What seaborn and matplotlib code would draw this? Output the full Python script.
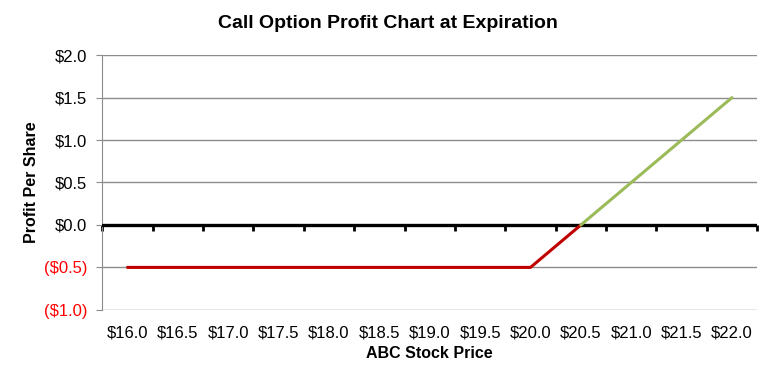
import numpy as np
import matplotlib.pyplot as plt
import seaborn as sns
import pandas as pd

# stock price categories and profit per share at expiration
prices = [16.0, 16.5, 17.0, 17.5, 18.0, 18.5, 19.0, 19.5, 20.0, 20.5, 21.0, 21.5, 22.0]
profit = [-0.5, -0.5, -0.5, -0.5, -0.5, -0.5, -0.5, -0.5, -0.5, 0.0, 0.5, 1.0, 1.5]
y_ticks = [-1.0, -0.5, 0.0, 0.5, 1.0, 1.5, 2.0]

sns.set_style('white')
plt.rcParams['font.family'] = ['Liberation Sans', 'DejaVu Sans']
plt.rcParams['text.color'] = 'black'
plt.rcParams['axes.labelcolor'] = 'black'
plt.rcParams['xtick.color'] = 'black'
plt.rcParams['ytick.color'] = 'black'

df = pd.DataFrame({'pos': np.arange(len(prices)), 'price': prices, 'profit': profit})
loss = df[df['profit'] <= 0]
gain = df[df['profit'] >= 0]

fig, ax = plt.subplots(figsize=(7.75, 3.83), dpi=100)
fig.subplots_adjust(left=0.132, right=0.977, top=0.856, bottom=0.191)

sns.lineplot(data=loss, x='pos', y='profit', color='#C00000', linewidth=2.2, ax=ax, zorder=4)
sns.lineplot(data=gain, x='pos', y='profit', color='#9BBB59', linewidth=2.2, ax=ax, zorder=4)

ax.set_xlim(-0.5, len(prices) - 0.5)
ax.set_ylim(y_ticks[0], y_ticks[-1])
ax.set_yticks(y_ticks)
ylabels = [f'${v:.1f}' if v >= 0 else f'(${-v:.1f})' for v in y_ticks]
ax.set_yticklabels(ylabels, fontsize=12)
for lab, v in zip(ax.get_yticklabels(), y_ticks):
    lab.set_color('red' if v < 0 else 'black')
ax.yaxis.grid(True, color='#8C8C8C', linewidth=1)
ax.tick_params(axis='y', direction='out', length=4, color='#8C8C8C', left=True, pad=7)

ax.set_xticks(df['pos'])
ax.set_xticklabels([f'${p:.1f}' for p in prices], fontsize=12)
ax.tick_params(axis='x', length=0, pad=11)

for s in ['top', 'right', 'bottom']:
    ax.spines[s].set_visible(False)
ax.spines['left'].set_color('#8C8C8C')

# zero axis with tick marks between categories
ax.axhline(0, color='black', linewidth=2.4, zorder=3)
zero_frac = (0 - y_ticks[0]) / (y_ticks[-1] - y_ticks[0])
sec = ax.secondary_xaxis(zero_frac)
sec.set_xticks(np.arange(len(prices) + 1) - 0.5)
sec.set_xticklabels([])
sec.tick_params(direction='out', length=4, width=2, color='black')
sec.spines['bottom'].set_visible(False)

fig.suptitle('Call Option Profit Chart at Expiration', fontsize=14, fontweight='bold', x=0.5, y=0.962)
ax.set_xlabel('ABC Stock Price', fontsize=11.5, fontweight='bold', labelpad=4)
ax.set_ylabel('Profit Per Share', fontsize=11.5, fontweight='bold', labelpad=3)

plt.savefig('out.png', dpi=100)
